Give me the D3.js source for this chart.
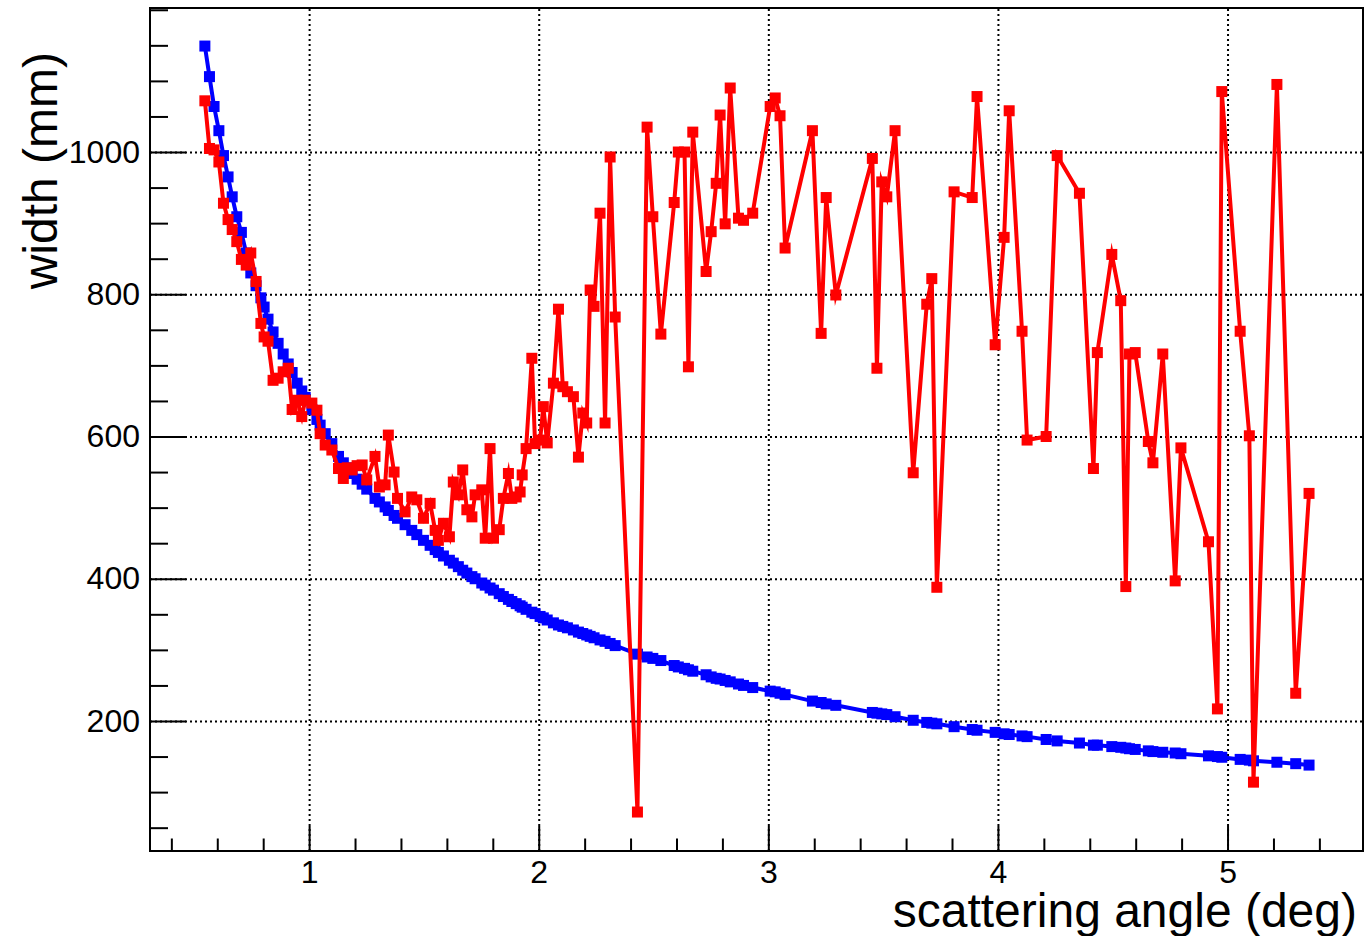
<!DOCTYPE html>
<html>
<head>
<meta charset="utf-8">
<script src="https://cdn.jsdelivr.net/npm/d3@7"></script>
<style>
  body { margin: 0; background: #fff; }
  svg { display: block; }
  text { font-family: "Liberation Sans", Arial, Helvetica, sans-serif; }
</style>
</head>
<body>
<svg id="chart" width="1365" height="936"></svg>
<script>
// scattering angle (deg), shared by both series
const angle = [0.546,0.566,0.586,0.607,0.627,0.647,0.665,0.685,0.705,0.726,
  0.746,0.769,0.790,0.804,0.821,0.843,0.865,0.887,0.909,0.926,
  0.948,0.968,0.983,1.012,1.034,1.048,1.070,1.099,1.128,1.149,
  1.166,1.187,1.209,1.231,1.251,1.287,1.306,1.331,1.345,1.370,
  1.385,1.418,1.447,1.469,1.498,1.527,1.549,1.563,1.585,1.611,
  1.628,1.650,1.669,1.687,1.709,1.723,1.752,1.767,1.788,1.803,
  1.828,1.846,1.868,1.883,1.902,1.919,1.928,1.945,1.970,1.984,
  2.006,2.020,2.037,2.064,2.086,2.105,2.125,2.151,2.173,2.192,
  2.209,2.224,2.241,2.267,2.289,2.311,2.333,2.430,2.472,2.497,
  2.532,2.590,2.608,2.635,2.652,2.671,2.729,2.751,2.773,2.790,
  2.812,2.834,2.870,2.892,2.932,3.008,3.030,3.051,3.073,3.192,
  3.230,3.252,3.294,3.453,3.473,3.494,3.516,3.552,3.631,3.690,
  3.712,3.734,3.809,3.888,3.909,3.988,4.027,4.049,4.105,4.127,
  4.210,4.258,4.355,4.416,4.433,4.496,4.535,4.557,4.573,4.598,
  4.655,4.675,4.718,4.772,4.797,4.917,4.956,4.975,5.055,5.095,
  5.113,5.215,5.297,5.355];

// expected width (mm), smooth series
const widthExpected = [1149,1106,1064,1030,995,965,937,909,887,858,
  830,812,795,782,765,747,731,716,702,690,
  675,664,655,638,624,616,604,590,572,563,
  556,548,540,533,526,513,508,501,496,489,
  485,476,468,462,454,447,441,437,432,426,
  422,417,412,408,403,400,394,391,387,384,
  379,375,371,368,365,362,360,357,353,351,
  347,345,342,338,335,333,331,328,325,323,
  321,319,317,314,312,309,306,294,290,288,
  285,278,276,274,272,270,265,262,260,259,
  257,255,252,250,247,242,241,239,237,228,
  226,224,222,212,211,210,209,206,201,198,
  197,196,192,188,187,184,182,181,179,178,
  174,172,169,166,166,164,163,162,161,160,
  158,157,156,155,154,151,150,149,146,145,
  144,142,140,138];

// measured width (mm)
const widthMeasured = [1072,1005,1003,986,928,905,891,874,849,841,
  858,818,759,740,734,679,682,691,696,638,
  651,628,651,647,637,604,588,581,555,541,
  556,553,559,560,539,572,529,532,602,550,
  513,494,515,511,485,506,468,454,478,459,
  536,518,553,497,487,518,525,457,583,457,
  469,513,548,513,515,522,546,583,710,590,
  595,642,591,675,779,670,663,656,571,633,
  619,806,783,914,619,993,768,72,1035,909,
  744,929,1000,1000,698,1028,832,888,956,1052,
  899,1090,907,904,914,1064,1076,1051,865,1030,
  745,936,799,991,696,958,937,1030,549,786,
  822,388,944,936,1078,729,880,1058,748,595,
  600,995,942,555,718,856,791,389,716,718,
  593,563,716,397,584,452,217,1085,748,601,
  114,1095,239,520];

const xMajorTicks = [1, 2, 3, 4, 5];
const xMinorTicks = [0.4,0.6,0.8,1.2,1.4,1.6,1.8,2.2,2.4,2.6,2.8,3.2,3.4,3.6,3.8,4.2,4.4,4.6,4.8,5.2,5.4];
const yMajorTicks = [200, 400, 600, 800, 1000];
const yMinorTicks = [50,100,150,250,300,350,450,500,550,650,700,750,850,900,950,1050,1100,1150,1200];

const xTitle = "scattering angle (deg)";
const yTitle = "width (mm)";

// frame geometry
const frame = { left: 150, top: 8, right: 1363, bottom: 851 };
const W = frame.right - frame.left, H = frame.bottom - frame.top;

const svg = d3.select("#chart");
const g = svg.append("g").attr("transform", `translate(${frame.left},${frame.top})`);

const x = d3.scaleLinear().domain([0.307, 5.59]).range([0, W]);
const y = d3.scaleLinear().domain([17.2, 1202.5]).range([H, 0]);

// dotted grid
g.append("g").attr("class", "grid")
  .attr("transform", `translate(0,${H})`)
  .call(d3.axisBottom(x).tickValues(xMajorTicks).tickSize(-H).tickFormat(""));
g.append("g").attr("class", "grid")
  .call(d3.axisLeft(y).tickValues(yMajorTicks).tickSize(-W).tickFormat(""));
g.selectAll(".grid .domain").remove();
g.selectAll(".grid line")
  .attr("stroke", "#000").attr("stroke-width", 2)
  .attr("stroke-dasharray", "2,3");

// axes: major + minor ticks pointing into the frame
function styleAxis(sel) {
  sel.select(".domain").remove();
  sel.selectAll("line").attr("stroke", "#000").attr("stroke-width", 2);
  sel.selectAll("text").attr("fill", "#000").style("font-size", "32px");
}
g.append("g").attr("transform", `translate(0,${H})`)
  .call(d3.axisBottom(x).tickValues(xMajorTicks).tickSize(-25).tickPadding(9).tickFormat(d3.format("d")))
  .call(styleAxis);
g.append("g").attr("transform", `translate(0,${H})`)
  .call(d3.axisBottom(x).tickValues(xMinorTicks).tickSize(-12.5).tickFormat(""))
  .call(styleAxis);
g.append("g")
  .call(d3.axisLeft(y).tickValues(yMajorTicks).tickSize(-36).tickPadding(10).tickFormat(d3.format("d")))
  .call(styleAxis);
g.append("g")
  .call(d3.axisLeft(y).tickValues(yMinorTicks).tickSize(-18).tickFormat(""))
  .call(styleAxis);

// data series
const clip = svg.append("defs").append("clipPath").attr("id", "plotclip");
clip.append("rect").attr("width", W).attr("height", H);
const plot = g.append("g").attr("clip-path", "url(#plotclip)");

const series = [
  { values: widthExpected, color: "#0000ff" },
  { values: widthMeasured, color: "#ff0000" }
];
const line = d3.line().x(d => x(d[0])).y(d => y(d[1]));
const msize = 11;

series.forEach(s => {
  const pts = angle.map((a, i) => [a, s.values[i]]);
  plot.append("path").datum(pts)
    .attr("d", line)
    .attr("fill", "none")
    .attr("stroke", s.color)
    .attr("stroke-width", 4)
    .attr("stroke-linejoin", "miter")
    .attr("stroke-miterlimit", 6);
  plot.append("g").selectAll("rect").data(pts).join("rect")
    .attr("x", d => x(d[0]) - msize / 2)
    .attr("y", d => y(d[1]) - msize / 2)
    .attr("width", msize).attr("height", msize)
    .attr("fill", s.color);
});

// frame
g.append("rect").attr("width", W).attr("height", H)
  .attr("fill", "none").attr("stroke", "#000").attr("stroke-width", 2);

// titles
svg.append("text")
  .attr("x", 1357).attr("y", 927)
  .attr("text-anchor", "end")
  .style("font-size", "48px")
  .text(xTitle);
svg.append("text")
  .attr("transform", "translate(57,52) rotate(-90)")
  .attr("text-anchor", "end")
  .style("font-size", "48px")
  .text(yTitle);
</script>
</body>
</html>
